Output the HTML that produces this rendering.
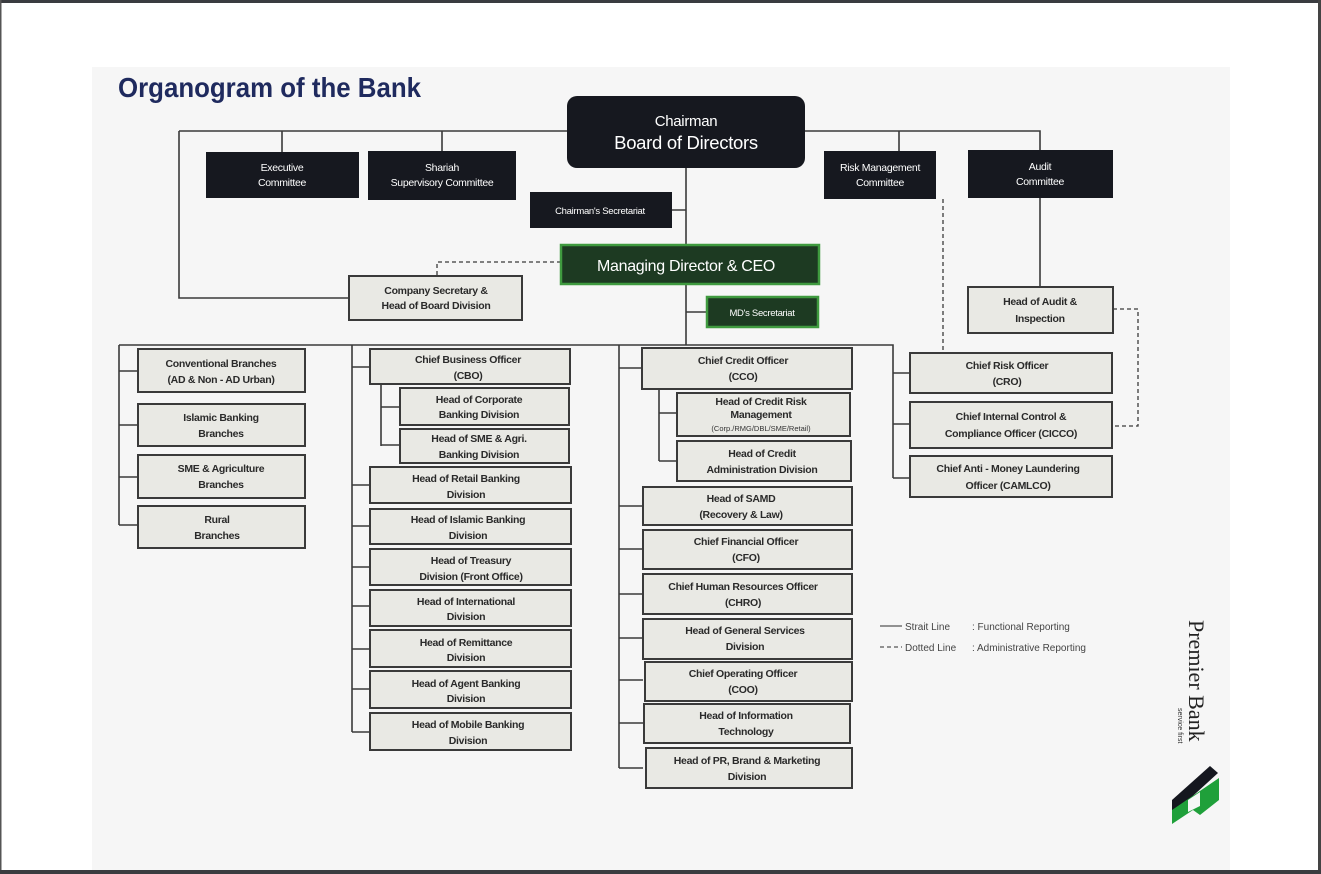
<!DOCTYPE html>
<html><head><meta charset="utf-8">
<style>
html,body{margin:0;padding:0;background:#fff;}
svg{display:block;}
text{font-family:"Liberation Sans",sans-serif;}
.b{fill:#e9e9e4;stroke:#3a3a3a;stroke-width:2;}
.d{fill:#16181f;}
.g{fill:#1d3a22;stroke:#3f9a3f;stroke-width:2.5;}
.t{font-size:10.5px;font-weight:bold;fill:#2a2a2a;text-anchor:middle;letter-spacing:-0.3px;}
.w{font-size:10.5px;fill:#fff;text-anchor:middle;letter-spacing:-0.3px;}
.l{stroke:#3a3a3a;stroke-width:1.6;fill:none;}
.dl{stroke:#3a3a3a;stroke-width:1.3;fill:none;stroke-dasharray:4,3;}
</style></head><body>
<svg width="1321" height="874" viewBox="0 0 1321 874" xmlns="http://www.w3.org/2000/svg">
<rect x="0" y="0" width="1321" height="874" fill="#fff"/>
<rect x="92" y="67" width="1138" height="804" fill="#f6f6f6"/>
<rect x="0" y="0" width="1321" height="3" fill="#3a3c40"/>
<rect x="0" y="0" width="1.5" height="874" fill="#555"/>
<rect x="1318" y="0" width="3" height="874" fill="#444"/>
<rect x="0" y="870" width="1321" height="4" fill="#3a3c40"/>

<text x="118" y="97" font-size="28" font-weight="bold" fill="#1f2a5e" textLength="303" lengthAdjust="spacingAndGlyphs">Organogram of the Bank</text>

<!-- lines -->
<path class="l" d="M179 131H567M805 131H1040V150M179 131V298H349M282 131V152M442 131V151M899 131V151M686 168V246M672 210H686M686 284V345M686 312H707M119 345H893V478M1040 198V287"/>
<path class="l" d="M119 345V525M119 371H138M119 425H138M119 477H138M119 525H138"/>
<path class="l" d="M352 345V732M352 367H370M381 384V446M381 407H400M381 445H400M352 485H370M352 526H370M352 567H370M352 606H370M352 649H370M352 689H370M352 732H370"/>
<path class="l" d="M619 345V768M619 368H642M659 389V461M659 413H677M659 461H677M619 506H643M619 549H643M619 594H643M619 638H643M619 680H643M619 723H643M619 768H643"/>
<path class="l" d="M893 373H910M893 424H910M893 478H910"/>
<path class="dl" d="M561 262H437V277M943 199V353M1113 309H1138V426H1112"/>

<!-- top boxes -->
<rect class="d" x="567" y="96" width="238" height="72" rx="10"/>
<text class="w" x="686" y="126" font-size="15" style="font-size:15px">Chairman</text>
<text class="w" x="686" y="149" style="font-size:18.5px">Board of Directors</text>
<rect class="d" x="206" y="152" width="153" height="46"/>
<text class="w" x="282" y="171">Executive</text><text class="w" x="282" y="186">Committee</text>
<rect class="d" x="368" y="151" width="148" height="49"/>
<text class="w" x="442" y="171">Shariah</text><text class="w" x="442" y="186">Supervisory Committee</text>
<rect class="d" x="824" y="151" width="112" height="48"/>
<text class="w" x="880" y="171">Risk Management</text><text class="w" x="880" y="186">Committee</text>
<rect class="d" x="968" y="150" width="145" height="48"/>
<text class="w" x="1040" y="170">Audit</text><text class="w" x="1040" y="185">Committee</text>
<rect class="d" x="530" y="192" width="142" height="36"/>
<text class="w" x="600" y="214" style="font-size:9.5px">Chairman's Secretariat</text>
<rect class="g" x="561" y="245" width="258" height="39"/>
<text class="w" x="686" y="271" style="font-size:16px">Managing Director &amp; CEO</text>
<rect class="g" x="707" y="297" width="111" height="30"/>
<text class="w" x="762" y="316" style="font-size:9.5px">MD's Secretariat</text>
<rect class="b" x="349" y="276" width="173" height="44"/>
<text class="t" x="436" y="294">Company Secretary &amp;</text><text class="t" x="436" y="309">Head of Board Division</text>
<rect class="b" x="968" y="287" width="145" height="46"/>
<text class="t" x="1040" y="305">Head of Audit &amp;</text><text class="t" x="1040" y="322">Inspection</text>

<!-- col 1 -->
<rect class="b" x="138" y="349" width="167" height="43"/>
<text class="t" x="221" y="367">Conventional Branches</text><text class="t" x="221" y="383">(AD &amp; Non - AD Urban)</text>
<rect class="b" x="138" y="404" width="167" height="42"/>
<text class="t" x="221" y="421">Islamic Banking</text><text class="t" x="221" y="437">Branches</text>
<rect class="b" x="138" y="455" width="167" height="43"/>
<text class="t" x="221" y="472">SME &amp; Agriculture</text><text class="t" x="221" y="488">Branches</text>
<rect class="b" x="138" y="506" width="167" height="42"/>
<text class="t" x="217" y="523">Rural</text><text class="t" x="217" y="539">Branches</text>

<!-- col 2 -->
<rect class="b" x="370" y="349" width="200" height="35"/>
<text class="t" x="468" y="363">Chief Business Officer</text><text class="t" x="468" y="379">(CBO)</text>
<rect class="b" x="400" y="388" width="169" height="37"/>
<text class="t" x="479" y="403">Head of Corporate</text><text class="t" x="479" y="418">Banking Division</text>
<rect class="b" x="400" y="429" width="169" height="34"/>
<text class="t" x="479" y="442">Head of SME &amp; Agri.</text><text class="t" x="479" y="458">Banking Division</text>
<rect class="b" x="370" y="467" width="201" height="36"/>
<text class="t" x="466" y="482">Head of Retail Banking</text><text class="t" x="466" y="498">Division</text>
<rect class="b" x="370" y="509" width="201" height="35"/>
<text class="t" x="468" y="523">Head of Islamic Banking</text><text class="t" x="468" y="539">Division</text>
<rect class="b" x="370" y="549" width="201" height="36"/>
<text class="t" x="471" y="564">Head of Treasury</text><text class="t" x="471" y="580">Division (Front Office)</text>
<rect class="b" x="370" y="590" width="201" height="36"/>
<text class="t" x="466" y="605">Head of International</text><text class="t" x="466" y="620">Division</text>
<rect class="b" x="370" y="630" width="201" height="37"/>
<text class="t" x="466" y="646">Head of Remittance</text><text class="t" x="466" y="661">Division</text>
<rect class="b" x="370" y="671" width="201" height="37"/>
<text class="t" x="466" y="687">Head of Agent Banking</text><text class="t" x="466" y="702">Division</text>
<rect class="b" x="370" y="713" width="201" height="37"/>
<text class="t" x="468" y="728">Head of Mobile Banking</text><text class="t" x="468" y="744">Division</text>

<!-- col 3 -->
<rect class="b" x="642" y="348" width="210" height="41"/>
<text class="t" x="743" y="364">Chief Credit Officer</text><text class="t" x="743" y="380">(CCO)</text>
<rect class="b" x="677" y="393" width="173" height="43"/>
<text class="t" x="761" y="405">Head of Credit Risk</text><text class="t" x="761" y="418">Management</text>
<text x="761" y="431" style="font-size:7.5px;fill:#333;text-anchor:middle;">(Corp./RMG/DBL/SME/Retail)</text>
<rect class="b" x="677" y="441" width="174" height="40"/>
<text class="t" x="762" y="457">Head of Credit</text><text class="t" x="762" y="473">Administration Division</text>
<rect class="b" x="643" y="487" width="209" height="38"/>
<text class="t" x="741" y="502">Head of SAMD</text><text class="t" x="741" y="518">(Recovery &amp; Law)</text>
<rect class="b" x="643" y="530" width="209" height="39"/>
<text class="t" x="746" y="545">Chief Financial Officer</text><text class="t" x="746" y="561">(CFO)</text>
<rect class="b" x="643" y="574" width="209" height="40"/>
<text class="t" x="743" y="590">Chief Human Resources Officer</text><text class="t" x="743" y="606">(CHRO)</text>
<rect class="b" x="643" y="619" width="209" height="40"/>
<text class="t" x="745" y="634">Head of General Services</text><text class="t" x="745" y="650">Division</text>
<rect class="b" x="645" y="662" width="207" height="39"/>
<text class="t" x="743" y="677">Chief Operating Officer</text><text class="t" x="743" y="693">(COO)</text>
<rect class="b" x="644" y="704" width="206" height="39"/>
<text class="t" x="746" y="719">Head of Information</text><text class="t" x="746" y="735">Technology</text>
<rect class="b" x="646" y="748" width="206" height="40"/>
<text class="t" x="747" y="764">Head of PR, Brand &amp; Marketing</text><text class="t" x="747" y="780">Division</text>

<!-- col 4 -->
<rect class="b" x="910" y="353" width="202" height="40"/>
<text class="t" x="1007" y="369">Chief Risk Officer</text><text class="t" x="1007" y="385">(CRO)</text>
<rect class="b" x="910" y="402" width="202" height="46"/>
<text class="t" x="1011" y="420">Chief Internal Control &amp;</text><text class="t" x="1011" y="437">Compliance Officer (CICCO)</text>
<rect class="b" x="910" y="456" width="202" height="41"/>
<text class="t" x="1008" y="472">Chief Anti - Money Laundering</text><text class="t" x="1008" y="489">Officer (CAMLCO)</text>

<!-- legend -->
<line x1="880" y1="626" x2="902" y2="626" stroke="#555" stroke-width="1.2"/>
<line x1="880" y1="647" x2="902" y2="647" stroke="#555" stroke-width="1.2" stroke-dasharray="4,3"/>
<text x="905" y="630" style="font-size:10px;fill:#444">Strait Line</text>
<text x="972" y="630" style="font-size:10px;fill:#444">: Functional Reporting</text>
<text x="905" y="651" style="font-size:10px;fill:#444">Dotted Line</text>
<text x="972" y="651" style="font-size:10px;fill:#444">: Administrative Reporting</text>

<!-- logo -->
<text transform="translate(1189,620) rotate(90)" style="font-family:'Liberation Serif',serif;font-size:22px;fill:#222">Premier Bank</text>
<text transform="translate(1178,708) rotate(90)" style="font-size:7px;fill:#333">service first</text>
<polygon points="1172,800 1210,766 1218,773 1172,815" fill="#15171f"/>
<polygon points="1172,810 1219,778 1219,800 1200,815 1193,810 1172,824" fill="#1fa03a"/>
<polygon points="1188,800 1200,792 1200,806 1188,812" fill="#f6f6f6"/>
</svg>
</body></html>
